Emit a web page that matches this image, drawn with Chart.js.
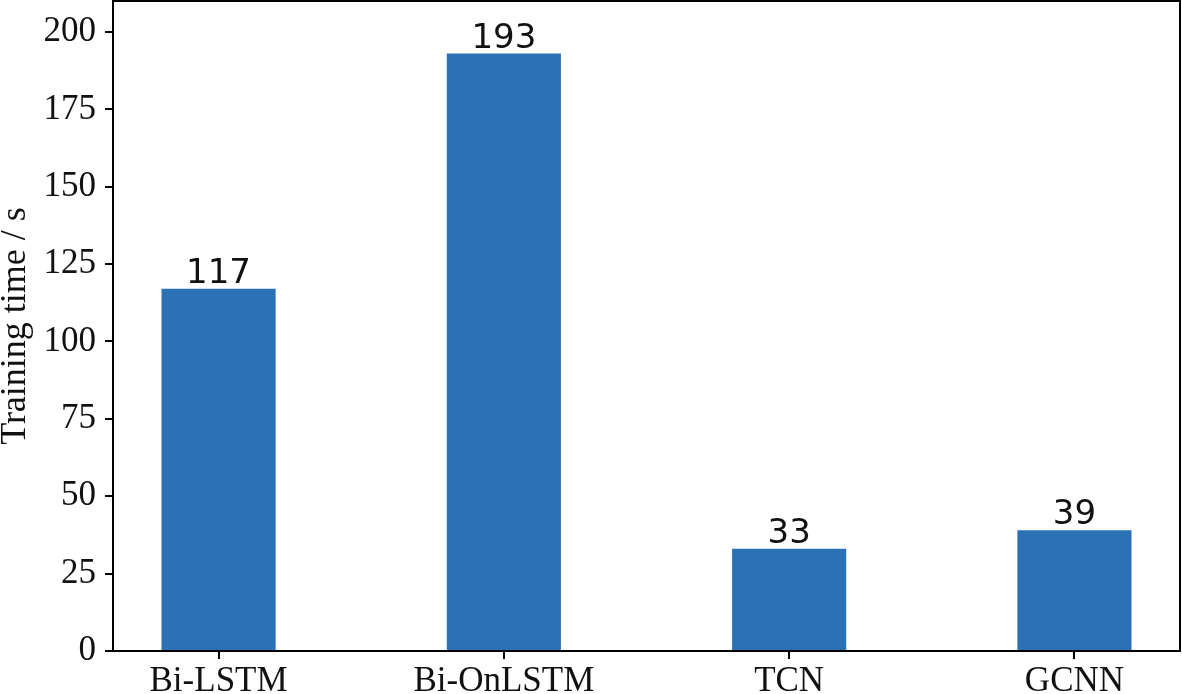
<!DOCTYPE html>
<html>
<head>
<meta charset="utf-8">
<script src="https://cdn.jsdelivr.net/npm/chart.js@4.4.0/dist/chart.umd.min.js"></script>
<style>
html,body{margin:0;padding:0;background:#fff;}
#wrap{width:1182px;height:694px;position:relative;}
</style>
</head>
<body>
<div id="wrap"><canvas id="c" width="1182" height="694"></canvas></div>
<script>
const categories = ['Bi-LSTM', 'Bi-OnLSTM', 'TCN', 'GCNN'];
const trainingTime = [117, 193, 33, 39];
const yTicks = [0, 25, 50, 75, 100, 125, 150, 175, 200];
const yTitle = 'Training time / s';

const points = categories.map((c, i) => ({x: i, y: trainingTime[i]}));

const frameAndLabels = {
  id: 'frameAndLabels',
  afterDatasetsDraw(chart) {
    const ctx = chart.ctx;
    const meta = chart.getDatasetMeta(0);
    ctx.save();
    ctx.fillStyle = '#111';
    ctx.font = '34px "DejaVu Sans"';
    ctx.textAlign = 'center';
    ctx.textBaseline = 'alphabetic';
    meta.data.forEach((bar, i) => {
      ctx.fillText(String(trainingTime[i]), bar.x, bar.y - 6);
    });
    ctx.restore();
  },
  afterDraw(chart) {
    const a = chart.chartArea;
    const ctx = chart.ctx;
    ctx.save();
    ctx.strokeStyle = '#000';
    ctx.lineWidth = 2;
    ctx.strokeRect(a.left, a.top, a.right - a.left, a.bottom - a.top);
    ctx.restore();
  }
};

new Chart(document.getElementById('c'), {
  type: 'bar',
  data: {
    datasets: [{
      data: points,
      backgroundColor: '#2a72b5',
      borderWidth: 0,
      barPercentage: 0.4,
      categoryPercentage: 1.0
    }]
  },
  options: {
    responsive: false,
    animation: false,
    devicePixelRatio: 1,
    layout: {padding: {top: 1, right: 2, left: 0, bottom: 0}},
    plugins: {legend: {display: false}, tooltip: {enabled: false}},
    scales: {
      x: {
        type: 'linear',
        offset: false,
        min: -0.37,
        max: 3.37,
        afterBuildTicks(scale) { scale.ticks = categories.map((c, i) => ({value: i})); },
        afterFit(scale) { scale.height = 43; scale.paddingLeft = 0; scale.paddingRight = 0; },
        ticks: {
          callback: (v) => categories[v],
          font: {family: '"Liberation Serif"', size: 35},
          color: '#111',
          padding: 2,
          maxRotation: 0,
          autoSkip: false
        },
        grid: {offset: false, drawOnChartArea: false, drawTicks: true, tickLength: 8, color: '#000', lineWidth: 2},
        border: {display: true, color: '#000', width: 2}
      },
      y: {
        min: 0,
        max: 210,
        afterBuildTicks(scale) { scale.ticks = yTicks.map(v => ({value: v})); },
        afterFit(scale) { scale.width = 113; scale.paddingTop = 0; scale.paddingBottom = 0; },
        ticks: {
          font: {family: '"Liberation Serif"', size: 35},
          color: '#111',
          padding: 9
        },
        grid: {drawOnChartArea: false, drawTicks: true, tickLength: 8, color: '#000', lineWidth: 2},
        border: {display: true, color: '#000', width: 2},
        title: {
          display: true,
          text: yTitle,
          font: {family: '"Liberation Serif"', size: 36},
          color: '#111',
          padding: {top: -6, bottom: 0}
        }
      }
    }
  },
  plugins: [frameAndLabels]
});
</script>
</body>
</html>
